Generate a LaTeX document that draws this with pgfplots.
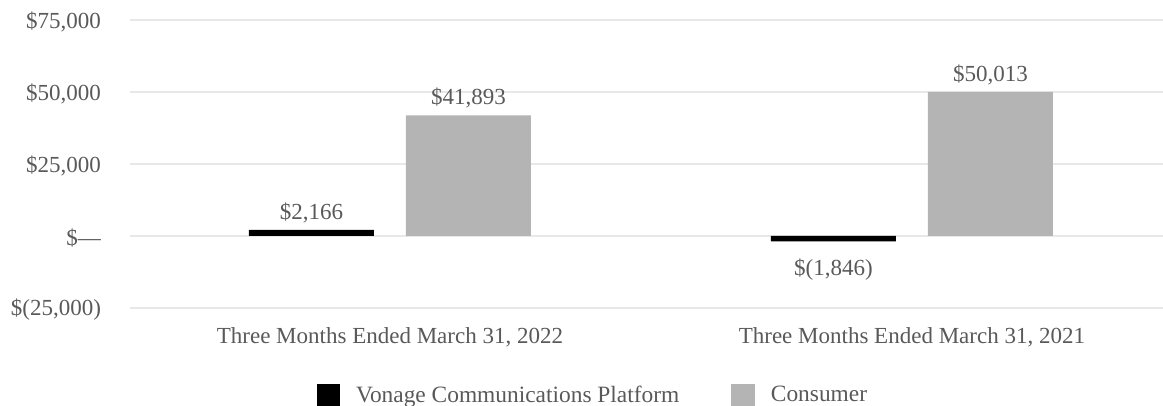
\documentclass[border=0pt]{standalone}
\usepackage{pgfplots}
\pgfplotsset{compat=1.18}
\usepackage{fontspec}
\setmainfont{Liberation Serif}
\definecolor{txt}{HTML}{595959}
\definecolor{gridc}{HTML}{E8E8E8}
\definecolor{cons}{HTML}{B4B4B4}
\newcommand{\lf}{\fontsize{11.5}{13}\selectfont}
\begin{document}
\begin{tikzpicture}
\begin{axis}[
  scale only axis, width=516.5pt, height=144pt,
  xmin=-0.498, xmax=1.481, ymin=-25000, ymax=75000,
  scaled y ticks=false,
  axis line style={draw=none},
  major tick length=0pt,
  ymajorgrids, grid style={draw=gridc, line width=1pt},
  ytick={-25000,0,25000,50000,75000},
  yticklabels={{\$(25,000)},{\$—},{\$25,000},{\$50,000},{\$75,000}},
  xtick={0,1},
  xticklabels={{Three Months Ended March 31, 2022},{Three Months Ended March 31, 2021}},
  ticklabel style={font=\lf, text=txt},
  yticklabel style={xshift=-11pt, yshift=-0.8pt},
  xticklabel style={yshift=-6pt},
  nodes near coords style={font=\lf, text=txt},
  legend style={at={(0.449,-0.304)}, anchor=center, draw=none, fill=none,
    font={\fontsize{11.7}{13}\selectfont}, text=txt, legend columns=2,
    /tikz/every odd column/.append style={column sep=6pt},
    /tikz/every even column/.append style={column sep=24pt}},
  legend image code/.code={\fill[#1] (0pt,-5.8pt) rectangle (11.8pt,5.8pt);},
]
\addplot[ybar, bar width=62.5pt, bar shift=-39.25pt, fill=black, draw=none,
  point meta=y, nodes near coords={\lbl}, nodes near coords align={vertical},
  visualization depends on={value \thisrow{lbl}\as\lbl},
  visualization depends on={value \thisrow{y}\as\yv},
  every node near coord/.append style={xshift=-39.25pt, yshift={-5*(\yv<0)}}]
  table[x=x, y=y] {
x y lbl
0 2166 {\$2,166}
1 -1846 {\$(1,846)}
};
\addlegendentry{Vonage Communications Platform}
\addplot[ybar, bar width=62.5pt, bar shift=39.25pt, fill=cons, draw=none,
  point meta=y, nodes near coords={\lbl}, nodes near coords align={vertical},
  visualization depends on={value \thisrow{lbl}\as\lbl},
  every node near coord/.append style={xshift=39.25pt}]
  table[x=x, y=y] {
x y lbl
0 41893 {\$41,893}
1 50013 {\$50,013}
};
\addlegendentry{Consumer}
\end{axis}
\pgfresetboundingbox
\path[use as bounding box] ([xshift=-65pt,yshift=-49pt]current axis.south west) rectangle ([yshift=10pt]current axis.north east);
\end{tikzpicture}
\end{document}
